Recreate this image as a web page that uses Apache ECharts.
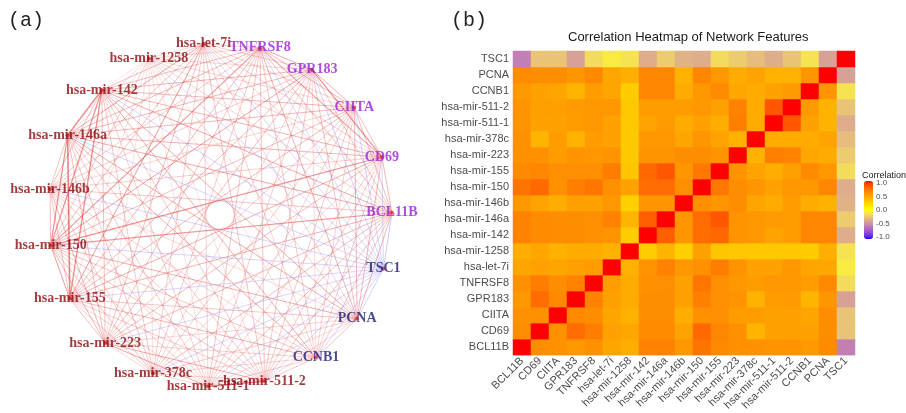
<!DOCTYPE html>
<html><head><meta charset="utf-8">
<script src="https://cdn.jsdelivr.net/npm/echarts@6/dist/echarts.min.js"></script>
<style>html,body{margin:0;padding:0;background:#fff}#c{width:906px;height:413px}</style>
</head><body><div id="c"></div>
<script>
// ---------- data ----------
const features = ['BCL11B','CD69','CIITA','GPR183','TNFRSF8','hsa-let-7i','hsa-mir-1258','hsa-mir-142','hsa-mir-146a','hsa-mir-146b','hsa-mir-150','hsa-mir-155','hsa-mir-223','hsa-mir-378c','hsa-mir-511-1','hsa-mir-511-2','CCNB1','PCNA','TSC1'];

// lower triangle of the correlation matrix (row i -> columns 0..i-1)
const corrLower = [
  [],
  [0.60],
  [0.58,0.58],
  [0.55,0.75,0.62],
  [0.58,0.67,0.60,0.65],
  [0.48,0.50,0.48,0.50,0.52],
  [0.44,0.47,0.42,0.45,0.45,0.42],
  [0.65,0.61,0.60,0.60,0.58,0.57,0.27],
  [0.65,0.61,0.60,0.60,0.59,0.65,0.40,0.80],
  [0.55,0.49,0.44,0.51,0.50,0.55,0.26,0.56,0.56],
  [0.72,0.76,0.58,0.66,0.71,0.58,0.50,0.75,0.75,0.59],
  [0.62,0.63,0.59,0.59,0.59,0.67,0.31,0.77,0.83,0.56,0.69],
  [0.58,0.58,0.52,0.57,0.55,0.57,0.30,0.57,0.57,0.60,0.60,0.57],
  [0.58,0.40,0.52,0.41,0.52,0.50,0.30,0.55,0.55,0.48,0.56,0.49,0.41],
  [0.57,0.50,0.50,0.52,0.55,0.50,0.30,0.49,0.53,0.45,0.50,0.44,0.66,0.45],
  [0.57,0.51,0.51,0.53,0.55,0.55,0.30,0.52,0.52,0.52,0.55,0.51,0.65,0.45,0.83],
  [0.54,0.50,0.48,0.40,0.52,0.48,0.28,0.63,0.63,0.45,0.55,0.61,0.47,0.45,0.50,0.53],
  [0.61,0.60,0.60,0.56,0.62,0.47,0.43,0.63,0.63,0.41,0.63,0.55,0.45,0.49,0.41,0.41,0.56],
  [-0.55,-0.25,-0.25,-0.40,-0.15,-0.08,-0.12,-0.35,-0.22,-0.33,-0.35,-0.15,-0.22,-0.28,-0.35,-0.25,-0.12,-0.40]
];

// order of nodes around the circle (clockwise), starting angle of the first node (deg from top)
const circleOrder = ['hsa-let-7i','TNFRSF8','GPR183','CIITA','CD69','BCL11B','TSC1','PCNA','CCNB1','hsa-mir-511-2','hsa-mir-511-1','hsa-mir-378c','hsa-mir-223','hsa-mir-155','hsa-mir-150','hsa-mir-146b','hsa-mir-146a','hsa-mir-142','hsa-mir-1258'];
const circleStartDeg = -5.5;
const immuneGenes = ['TNFRSF8','GPR183','CIITA','CD69','BCL11B'];
const cycleGenes = ['TSC1','PCNA','CCNB1'];
const legendTicks = [-1, -0.5, 0, 0.5, 1];

// ---------- helpers ----------
const n = features.length;
const M = [];
for (let i = 0; i < n; i++) { M.push([]); for (let j = 0; j < n; j++) M[i].push(i === j ? 1 : (i > j ? corrLower[i][j] : corrLower[j][i])); }

function s2l(c){c/=255;return c<=0.04045?c/12.92:Math.pow((c+0.055)/1.055,2.4);}
function l2s(c){c=c<=0.0031308?12.92*c:1.055*Math.pow(Math.max(c,0),1/2.4)-0.055;return Math.round(Math.max(0,Math.min(1,c))*255);}
function rgb2lab(rgb){const r=s2l(rgb[0]),g=s2l(rgb[1]),b=s2l(rgb[2]);
  const x=(0.4124*r+0.3576*g+0.1805*b)/0.95047,y=0.2126*r+0.7152*g+0.0722*b,z=(0.0193*r+0.1192*g+0.9505*b)/1.08883;
  const f=t=>t>0.008856?Math.cbrt(t):7.787*t+16/116;const fx=f(x),fy=f(y),fz=f(z);
  return [116*fy-16,500*(fx-fy),200*(fy-fz)];}
function lab2rgb(lab){const fy=(lab[0]+16)/116,fx=fy+lab[1]/500,fz=fy-lab[2]/200;
  const fi=t=>t>0.206893?t*t*t:(t-16/116)/7.787;
  const x=0.95047*fi(fx),y=fi(fy),z=1.08883*fi(fz);
  return 'rgb('+l2s(3.2406*x-1.5372*y-0.4986*z)+','+l2s(-0.9689*x+1.8758*y+0.0415*z)+','+l2s(0.0557*x-0.2040*y+1.0570*z)+')';}
const labLow=rgb2lab([0,0,255]),labMid=rgb2lab([255,255,0]),labHigh=rgb2lab([255,0,0]);
const mix=(a,b,t)=>a.map((v,k)=>v+(b[k]-v)*t);
const stops=[];
for(let k=0;k<=40;k++){const v=-1+k/20;stops.push(lab2rgb(v<0?mix(labLow,labMid,v+1):mix(labMid,labHigh,v)));}

function labelColor(nm){ if(immuneGenes.includes(nm)) return '#9a22d6'; if(cycleGenes.includes(nm)) return '#1d1d6e'; return '#8a0c10'; }

// network nodes & links
const idx = {}; circleOrder.forEach((nm,k)=>idx[nm]=k);
const nodes = circleOrder.map((nm,k)=>{
  const a=(circleStartDeg+k*360/circleOrder.length)*Math.PI/180;
  return {name:nm, value:[Math.sin(a), Math.cos(a)], label:{color:labelColor(nm)}};
});
const links = [];
for (let i = 0; i < n; i++) for (let j = 0; j < i; j++) {
  const r = M[i][j], ar = Math.abs(r);
  links.push({source: idx[features[i]], target: idx[features[j]],
    lineStyle:{color: r>0 ? 'rgb(220,45,45)' : 'rgb(120,120,255)', width: 0.6+2*Math.pow(ar,4), opacity: r>0 ? 0.18+0.6*ar*ar : 0.5}});
}

const heatData = [];
for (let i = 0; i < n; i++) for (let j = 0; j < n; j++) heatData.push([j, i, M[i][j]]);

const axisText = {color:'#4d4d4d', fontSize:11, fontFamily:'Liberation Sans'};
const chart = echarts.init(document.getElementById('c'), null, {renderer:'canvas'});
chart.setOption({
  animation:false,
  backgroundColor:'#fff',
  title:[
    {text:'(a)', left:8, top:11, padding:0, textStyle:{fontFamily:'Liberation Mono', fontSize:20, fontWeight:'normal', color:'#222'}},
    {text:'(b)', left:451, top:11, padding:0, textStyle:{fontFamily:'Liberation Mono', fontSize:20, fontWeight:'normal', color:'#222'}},
    {text:'Correlation Heatmap of Network Features', left:568, top:31, padding:0, textStyle:{fontFamily:'Liberation Sans', fontSize:13, fontWeight:'normal', color:'#1a1a1a'}},
    {text:'Correlation', left:862, top:171, padding:0, textStyle:{fontFamily:'Liberation Sans', fontSize:9, fontWeight:'normal', color:'#1a1a1a'}}
  ],
  grid:[
    {left:48, top:43, width:344, height:344},
    {left:513, top:51, width:342, height:306},
    {left:872, top:183, width:1, height:54}
  ],
  xAxis:[
    {gridIndex:0, type:'value', min:-1, max:1, show:false},
    {gridIndex:1, type:'category', data:features, axisLine:{show:false}, axisTick:{show:false}, splitLine:{show:false},
      axisLabel:Object.assign({rotate:45, interval:0, margin:4}, axisText)},
    {gridIndex:2, type:'value', show:false}
  ],
  yAxis:[
    {gridIndex:0, type:'value', min:-1, max:1, show:false},
    {gridIndex:1, type:'category', data:features, axisLine:{show:false}, axisTick:{show:false}, splitLine:{show:false},
      axisLabel:Object.assign({interval:0, margin:4}, axisText)},
    {gridIndex:2, type:'value', min:-1, max:1, interval:0.5, position:'right', axisLine:{show:false}, axisTick:{show:false}, splitLine:{show:false},
      axisLabel:{margin:3, fontSize:8, color:'#4d4d4d', fontFamily:'Liberation Sans', formatter:v=>legendTicks.includes(v)?v.toFixed(1):''}}
  ],
  visualMap:{type:'continuous', min:-1, max:1, seriesIndex:1, left:864, top:181, itemWidth:9, itemHeight:58, padding:0,
    calculable:false, text:null, showLabel:false, inRange:{color:stops}},
  series:[
    {type:'graph', layout:'none', coordinateSystem:'cartesian2d', xAxisIndex:0, yAxisIndex:0,
      symbol:'circle', symbolSize:4, itemStyle:{color:'rgb(225,50,50)', opacity:0.8},
      label:{show:true, position:'inside', fontFamily:'Liberation Serif', fontWeight:'bold', fontSize:14},
      data:nodes, links:links, lineStyle:{curveness:0}, silent:true},
    {type:'heatmap', xAxisIndex:1, yAxisIndex:1, data:heatData, itemStyle:{borderWidth:0}, silent:true}
  ]
});
</script></body></html>
